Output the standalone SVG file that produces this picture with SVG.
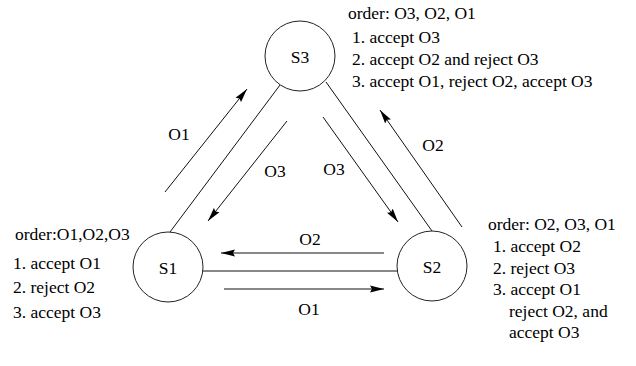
<svg xmlns="http://www.w3.org/2000/svg" width="636" height="366" viewBox="0 0 636 366">
  <defs>
    <marker id="arrow" markerUnits="userSpaceOnUse" markerWidth="15" markerHeight="8" refX="14" refY="4" orient="auto">
      <path d="M0,0.5 L14,4 L0,7.5 L2,4 z" fill="#000"/>
    </marker>
    <style>
      text { font-family: "Liberation Serif", "Times New Roman", serif; font-size: 17.5px; fill: #000; }
      .node circle { fill: #fff; stroke: #222; stroke-width: 1; }
      .node text { text-anchor: middle; }
      .edge { stroke: #111; stroke-width: 1; fill: none; }
      .arr { marker-end: url(#arrow); }
      .lbl { text-anchor: middle; }
    </style>
  </defs>

  <rect width="636" height="366" fill="#fff"/>

  <!-- links and message arrows -->
  <g id="connectors">
    <line class="edge" x1="280" y1="85" x2="170" y2="232"/>
    <line class="edge" x1="326" y1="82" x2="432" y2="231"/>
    <line class="edge" x1="203" y1="271" x2="397" y2="271"/>

    <line class="edge arr" x1="165" y1="192" x2="247" y2="89"/>
    <line class="edge arr" x1="287" y1="121" x2="208" y2="221"/>
    <line class="edge arr" x1="323" y1="117" x2="398" y2="222"/>
    <line class="edge arr" x1="462" y1="227" x2="380" y2="110"/>
    <line class="edge arr" x1="384" y1="253" x2="221" y2="253"/>
    <line class="edge arr" x1="224" y1="289" x2="384" y2="289"/>

    <text class="lbl" x="179" y="140">O1</text>
    <text class="lbl" x="275" y="177">O3</text>
    <text class="lbl" x="334" y="175">O3</text>
    <text class="lbl" x="433" y="151">O2</text>
    <text class="lbl" x="310" y="245">O2</text>
    <text class="lbl" x="309" y="315">O1</text>
  </g>

  <g id="S3" class="node">
    <circle cx="300" cy="56" r="35"/>
    <text x="300" y="63">S3</text>
  </g>
  <g id="S1" class="node">
    <circle cx="168" cy="267" r="35"/>
    <text x="168" y="274">S1</text>
  </g>
  <g id="S2" class="node">
    <circle cx="432" cy="266" r="35"/>
    <text x="432" y="273">S2</text>
  </g>

  <!-- ordering notes for each site -->
  <g id="note-S3">
    <text x="348" y="19">order: O3, O2, O1</text>
    <text x="352" y="43">1. accept O3</text>
    <text x="352" y="65">2. accept O2 and reject O3</text>
    <text x="352" y="87">3. accept O1, reject O2, accept O3</text>
  </g>
  <g id="note-S1">
    <text x="15" y="240">order:O1,O2,O3</text>
    <text x="13" y="269">1. accept O1</text>
    <text x="13" y="293">2. reject  O2</text>
    <text x="13" y="318">3. accept O3</text>
  </g>
  <g id="note-S2">
    <text x="488" y="230">order: O2, O3, O1</text>
    <text x="493" y="252">1. accept O2</text>
    <text x="493" y="274">2. reject O3</text>
    <text x="493" y="295">3. accept  O1</text>
    <text x="509" y="317">reject  O2, and</text>
    <text x="509" y="338">accept O3</text>
  </g>
</svg>
